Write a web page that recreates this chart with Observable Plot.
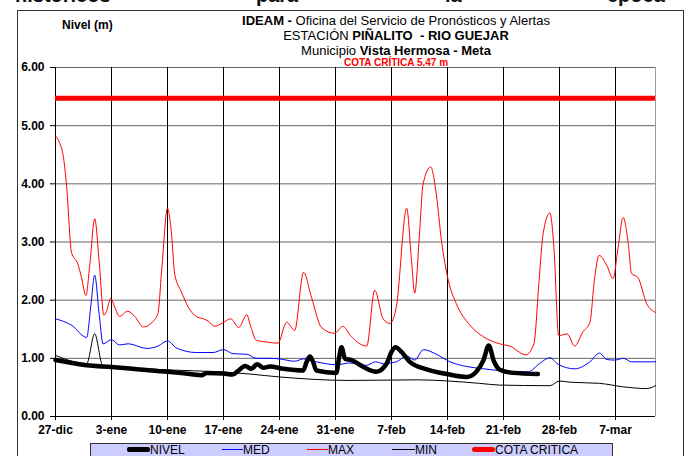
<!DOCTYPE html>
<html><head><meta charset="utf-8">
<script src="https://cdn.jsdelivr.net/npm/d3@7"></script>
<script src="https://cdn.jsdelivr.net/npm/@observablehq/plot@0.6"></script>
<style>
body{margin:0;background:#fff;font-family:Arial,"Liberation Sans",sans-serif;}
#wrap{position:relative;width:687px;height:456px;overflow:hidden;background:#fff;}
#frame{position:absolute;left:17px;top:10px;width:667px;height:470px;border:1px solid #333;box-sizing:border-box;}
.t{position:absolute;white-space:nowrap;color:#000;}
.doc{font-size:20px;font-weight:bold;line-height:20px;top:-15px;color:#111;}
.title{left:196px;width:400px;text-align:center;font-size:13px;line-height:13px;}
#chart{position:absolute;left:0;top:0;}
#chart svg text{font-weight:bold;}
#legend{position:absolute;left:90px;top:443px;width:523px;height:30px;background:#ccccff;border:1px solid #333;box-sizing:border-box;}
.lg{position:absolute;height:1px;}
.lt{position:absolute;top:443px;font-size:12px;line-height:14px;}
</style></head>
<body>
<div id="wrap">
  <div class="t doc" style="left:15px">históricos</div>
  <div class="t doc" style="left:256px">para</div>
  <div class="t doc" style="left:445px">la</div>
  <div class="t doc" style="left:607px">época</div>
  <div id="frame"></div>
  <div id="chart"></div>
  <div class="t" style="left:62px;top:18px;font-size:12px;font-weight:bold;line-height:14px;">Nivel (m)</div>
  <div class="t title" style="top:13.5px"><b>IDEAM -</b> Oficina del Servicio de Pronósticos y Alertas</div>
  <div class="t title" style="top:28.5px">ESTACIÓN <b>PIÑALITO &nbsp;- RIO GUEJAR</b></div>
  <div class="t title" style="top:44px">Municipio <b>Vista Hermosa - Meta</b></div>
  <div class="t title" style="top:58px;font-size:10px;line-height:10px;color:#ff0000;font-weight:bold;">COTA CRÍTICA 5.47 m</div>
  <div id="legend"></div>
  <div class="lg" style="left:127px;width:23px;top:447px;height:4.5px;background:#000;border-radius:2px;"></div>
  <div class="t lt" style="left:150px">NIVEL</div>
  <div class="lg" style="left:222px;width:21px;top:449px;background:#0000ff;"></div>
  <div class="t lt" style="left:243px">MED</div>
  <div class="lg" style="left:307px;width:21px;top:449px;background:#ff0000;"></div>
  <div class="t lt" style="left:328px">MAX</div>
  <div class="lg" style="left:392px;width:23px;top:449px;background:#000;"></div>
  <div class="t lt" style="left:415px">MIN</div>
  <div class="lg" style="left:472px;width:23px;top:447px;height:5px;background:#ff0000;border-radius:2.5px;"></div>
  <div class="t lt" style="left:495px">COTA CRITICA</div>
</div>
<script>
// x = days since 27-dic
const xTickDays = [0, 7, 14, 21, 28, 35, 42, 49, 56, 63, 70];
const xTickLabels = ["27-dic", "3-ene", "10-ene", "17-ene", "24-ene", "31-ene", "7-feb", "14-feb", "21-feb", "28-feb", "7-mar"];
const yTicks = [0, 1, 2, 3, 4, 5, 6];
const cotaCritica = 5.47;

const maxDays = [0,0.5,1,1.4,2,2.8,3.25,3.8,4.3,4.9,5.45,6.05,6.4,6.9,7.4,8,9,9.9,11,12,12.8,13.3,14,14.5,14.9,15.75,16.6,17.6,18.45,19.1,19.9,20.9,21.9,22.9,23.9,24.4,25.1,26.4,27.8,28.9,29.9,31,32,33.25,34.9,35.9,37,38.9,39.9,40.95,41.8,42.6,43.9,44.5,44.9,45.5,45.95,46.9,47.6,48.25,49.1,50.1,51.8,53.5,55.5,56.8,58.8,59.8,60.45,60.95,61.8,62.3,62.9,63.95,64.9,65.9,66.8,67.4,67.95,68.9,69.7,70.3,70.95,71.6,72,72.8,73.9,75];
const maxVals = [4.82,4.71,4.45,3.94,2.82,2.62,2.39,2.08,2.63,3.40,2.68,1.74,1.82,2.03,1.88,1.72,1.81,1.72,1.54,1.61,1.77,2.57,3.58,3.14,2.45,2.14,1.88,1.72,1.68,1.64,1.55,1.61,1.68,1.53,1.75,1.55,1.31,1.28,1.26,1.62,1.48,2.48,2.05,1.53,1.43,1.55,1.37,1.21,2.17,1.68,1.60,1.88,3.58,2.68,2.12,3.14,4.00,4.29,3.82,3.02,2.34,1.94,1.57,1.37,1.25,1.21,1.06,1.25,2.34,3.14,3.50,2.91,1.39,1.42,1.21,1.45,1.62,2.39,2.77,2.60,2.37,2.88,3.42,2.97,2.46,2.39,1.94,1.79];

const medDays = [0,2,3.9,4.4,4.9,5.45,5.95,7,8,9.1,11.4,12.8,14,15.1,17.6,19.7,21,22.2,23.9,25.1,26.8,28,29.9,31,32.6,35.1,36.8,38.9,40,41,42.6,43.9,44.9,46,47.6,49.3,51.4,53.5,55.5,59.1,60.5,61.8,62.8,64.9,66.8,68,68.9,69.9,71,72,75];
const medVals = [1.68,1.57,1.36,1.88,2.43,1.77,1.25,1.32,1.23,1.25,1.17,1.21,1.30,1.18,1.10,1.10,1.15,1.08,1.07,1.00,1.00,0.99,0.95,0.99,0.94,0.89,0.92,0.88,0.94,0.91,0.94,1.04,0.97,1.15,1.07,0.94,0.86,0.82,0.79,0.77,0.91,1.01,0.90,0.82,0.94,1.09,0.98,0.97,1.00,0.94,0.94];

const minDays = [0,3.9,4.9,5.9,24.3,28,36.8,45.1,53,55.5,61.8,63,64.3,68,71,73.9,75];
const minVals = [1.05,0.91,1.42,0.88,0.73,0.68,0.62,0.63,0.57,0.54,0.53,0.61,0.59,0.57,0.51,0.48,0.53];

const nivelDays = [0,3.9,7,10.5,14,16.8,18.25,18.9,21,22.1,22.8,23.7,24.5,25.2,26,26.8,28.5,30.95,31.4,31.8,32.2,32.6,35.1,35.45,35.75,36.2,37,38.5,40.1,41.4,42,42.5,43.25,44.3,46.4,48.9,51.4,52.6,53.5,54.15,54.8,55.6,57.2,60.3];
const nivelVals = [0.97,0.88,0.85,0.81,0.77,0.73,0.71,0.75,0.74,0.72,0.78,0.87,0.82,0.90,0.84,0.86,0.82,0.79,0.94,1.03,0.94,0.79,0.75,1.02,1.19,0.99,0.97,0.85,0.77,0.91,1.11,1.19,1.11,0.94,0.81,0.73,0.68,0.77,0.97,1.22,0.95,0.80,0.75,0.73];

const zip = (ds, vs) => ds.map((d, i) => ({d, v: vs[i]}));
const maxData = zip(maxDays, maxVals);
const medData = zip(medDays, medVals);
const minData = zip(minDays, minVals);
const nivelData = zip(nivelDays, nivelVals);

const chart = Plot.plot({
  width: 687, height: 456,
  marginLeft: 55, marginRight: 32, marginTop: 67, marginBottom: 40,
  style: {background: "transparent", fontFamily: "Arial, 'Liberation Sans', sans-serif", fontSize: "12px", color: "#000", overflow: "visible"},
  x: {domain: [0, 75]},
  y: {domain: [0, 6]},
  marks: [
    Plot.gridY(yTicks.slice(1), {stroke: "#666", strokeOpacity: 1}),
    Plot.gridX(xTickDays, {stroke: "#000", strokeOpacity: 1}),
    Plot.ruleX([75], {stroke: "#9a9a9a"}),
    Plot.ruleY([0], {stroke: "#000"}),
    Plot.axisY(yTicks, {tickSize: 5, tickPadding: 6, tickFormat: d => d.toFixed(2), fontSize: 12, label: null}),
    Plot.axisX(xTickDays, {tickSize: 4, tickPadding: 5, tickFormat: d => xTickLabels[xTickDays.indexOf(d)], fontSize: 12, label: null}),
    Plot.ruleY([cotaCritica], {stroke: "#ff0000", strokeWidth: 5}),
    Plot.line(minData, {x: "d", y: "v", stroke: "#000", strokeWidth: 1, curve: "monotone-x"}),
    Plot.line(medData, {x: "d", y: "v", stroke: "#0000ff", strokeWidth: 1, curve: "monotone-x"}),
    Plot.line(maxData, {x: "d", y: "v", stroke: "#ff0000", strokeWidth: 1, curve: "monotone-x"}),
    Plot.line(nivelData, {x: "d", y: "v", stroke: "#000", strokeWidth: 4.5, curve: "monotone-x"})
  ]
});
document.getElementById("chart").appendChild(chart);
</script>
</body></html>
